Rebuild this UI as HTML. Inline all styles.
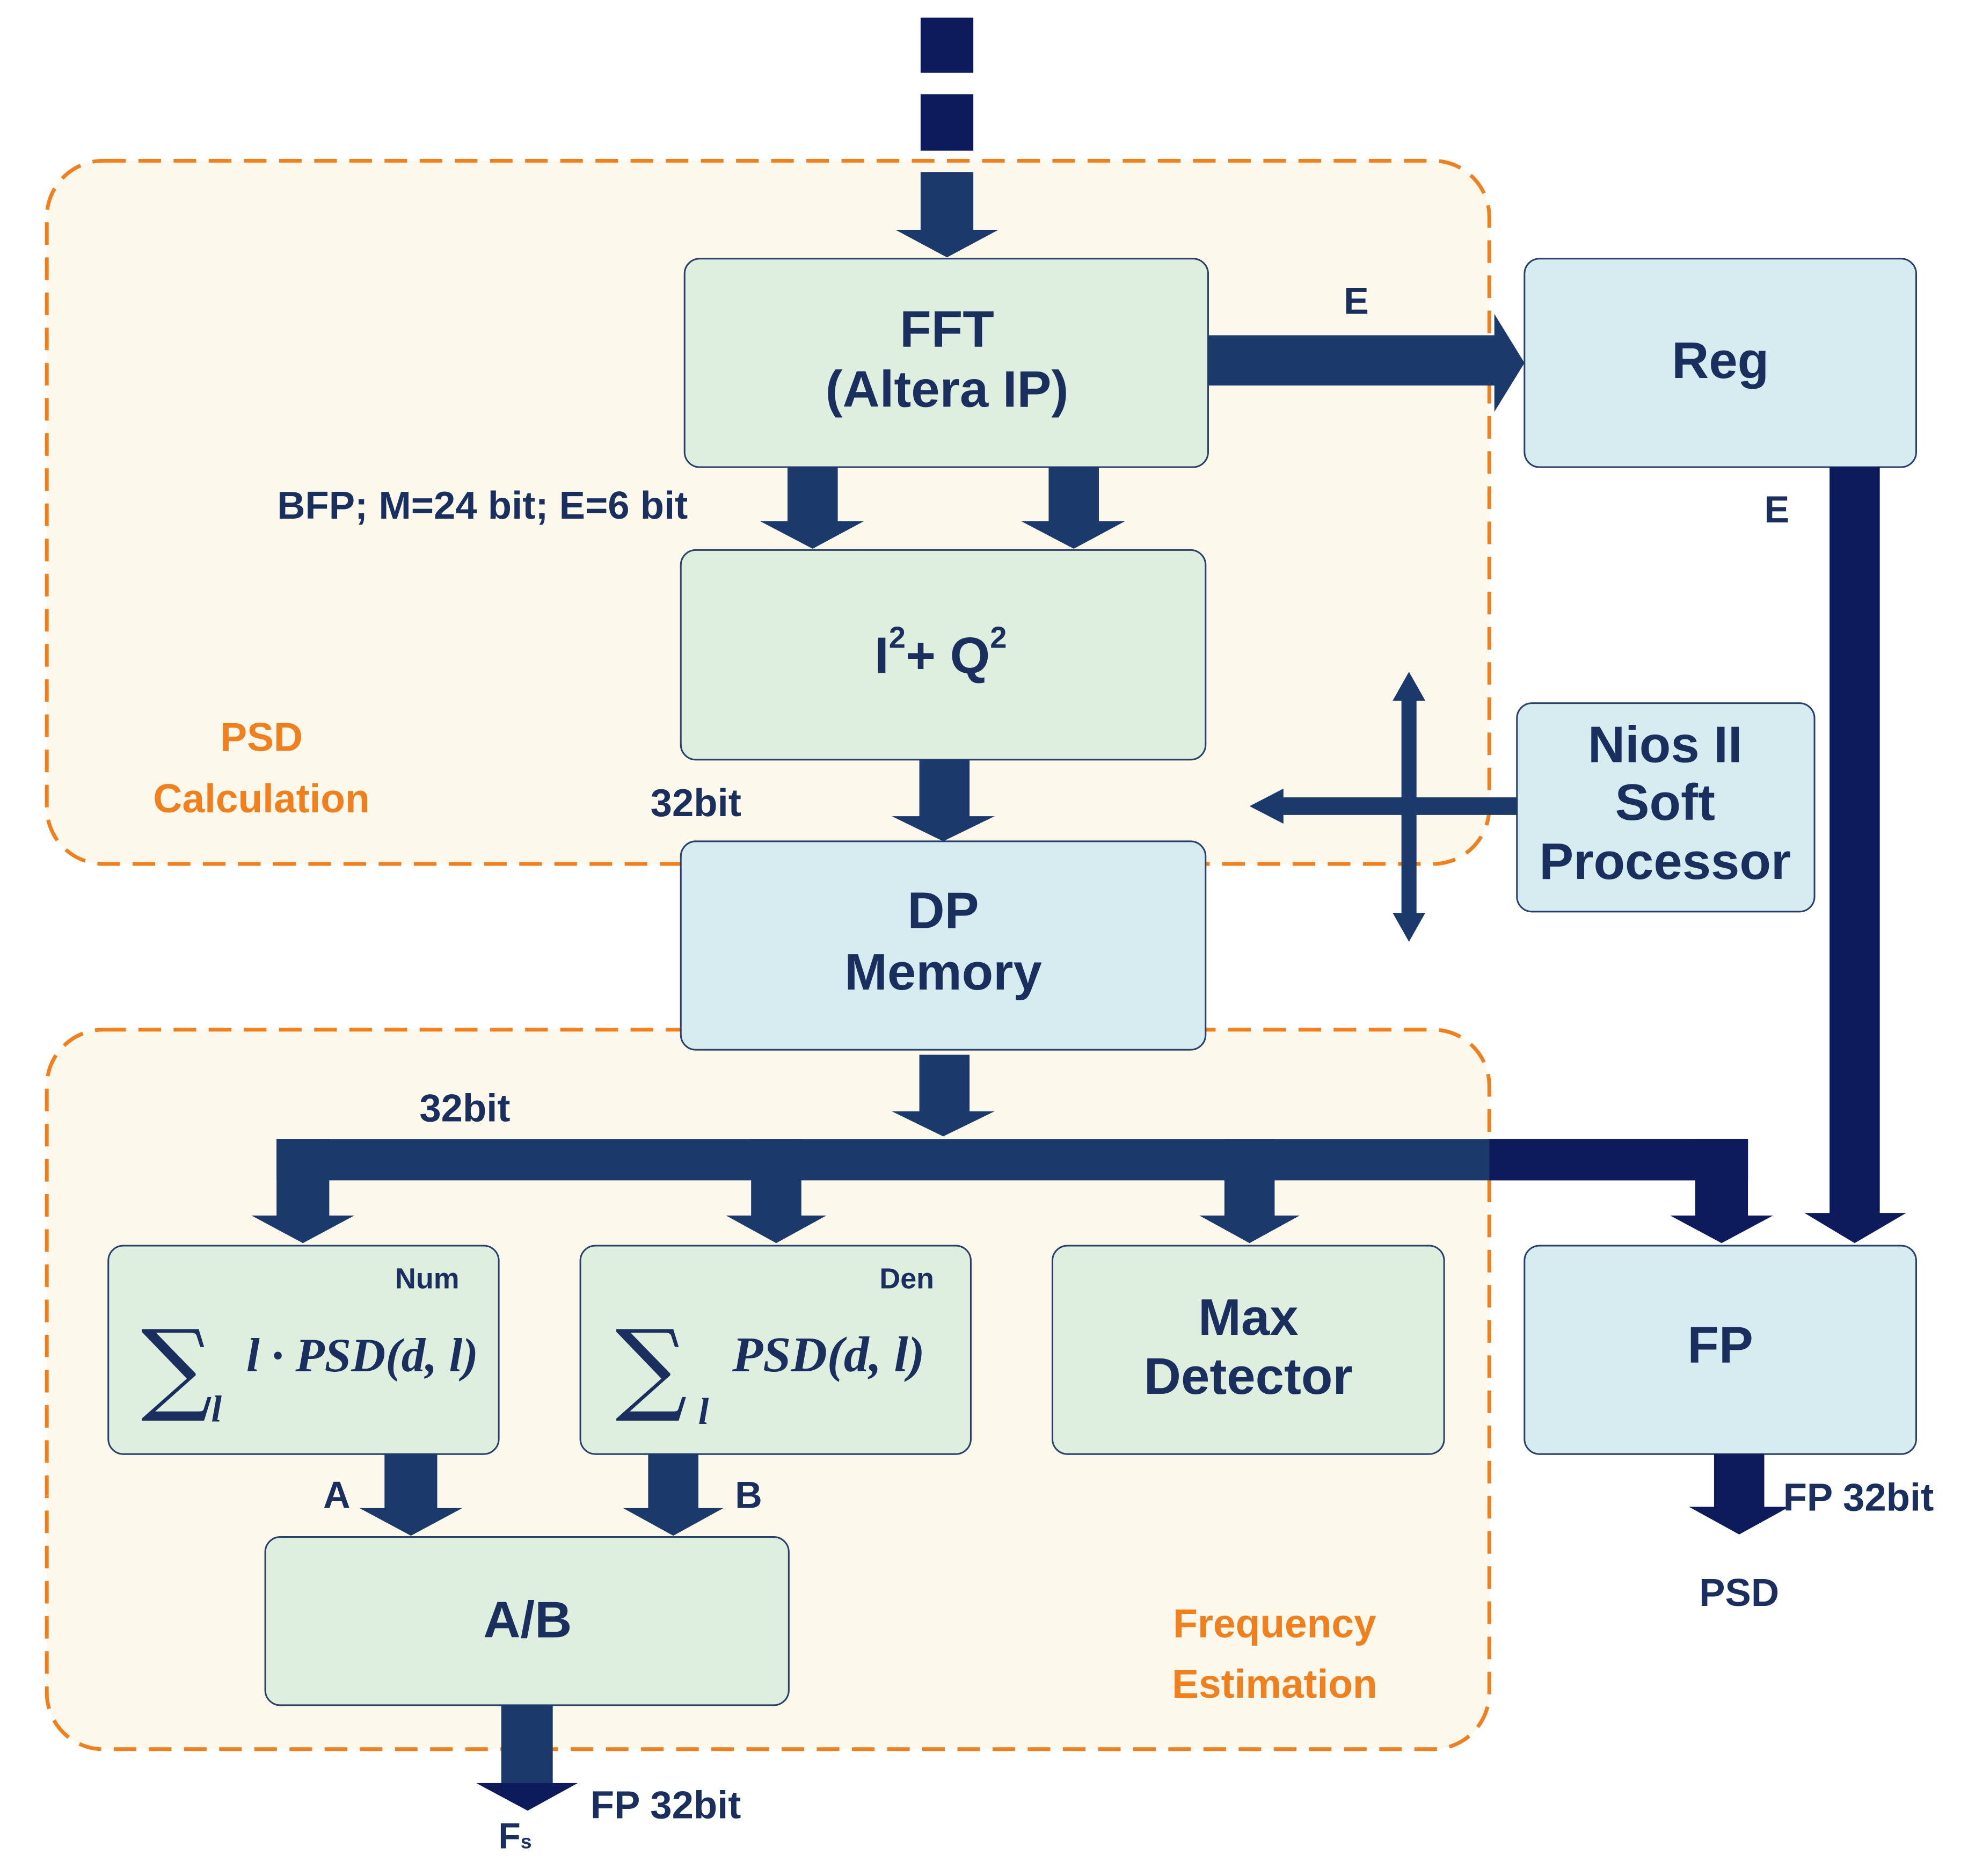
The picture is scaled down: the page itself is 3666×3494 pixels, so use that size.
<!DOCTYPE html>
<html><head><meta charset="utf-8"><style>
html,body{margin:0;padding:0;background:#fff;}
svg{display:block;}
text{font-family:"Liberation Sans",sans-serif;font-weight:bold;}
.t{fill:#1b2f5e;}
.o{fill:#f07f1e;}
</style></head><body>
<svg width="3666" height="3494" viewBox="0 0 1567 1494" xmlns="http://www.w3.org/2000/svg">
<rect width="1567" height="1494" fill="#fff"/>
<rect x="37" y="128" width="1149" height="560" rx="45" fill="#fdf8ec" stroke="#f07f1e" stroke-width="3" stroke-dasharray="18 10"/>
<rect x="37" y="820" width="1149" height="573" rx="45" fill="#fdf8ec" stroke="#f07f1e" stroke-width="3" stroke-dasharray="18 10"/>

<g fill="#0d1a5c">
<rect x="733" y="14" width="42" height="44"/>
<rect x="733" y="75" width="42" height="45"/>
</g>
<g fill="#1b3a6b">
<rect x="733" y="137" width="42" height="48"/>
<polygon points="713,183 795,183 754,205"/>
</g>

<g stroke="#2a3f6a" stroke-width="1.3">
<rect x="545" y="206" width="417" height="166" rx="12" fill="#deeedf"/>
<rect x="1214" y="206" width="312" height="166" rx="12" fill="#d6ecf0"/>
<rect x="542" y="438" width="418" height="167" rx="12" fill="#deeedf"/>
<rect x="542" y="670" width="418" height="166" rx="12" fill="#d6ecf0"/>
<rect x="1208" y="560" width="237" height="166" rx="12" fill="#d6ecf0"/>
<rect x="86" y="992" width="311" height="166" rx="12" fill="#deeedf"/>
<rect x="462" y="992" width="311" height="166" rx="12" fill="#deeedf"/>
<rect x="838" y="992" width="312" height="166" rx="12" fill="#deeedf"/>
<rect x="1214" y="992" width="312" height="166" rx="12" fill="#d6ecf0"/>
<rect x="211" y="1224" width="417" height="134" rx="12" fill="#deeedf"/>
</g>

<g fill="#1b3a6b">
<rect x="962" y="267" width="230" height="40"/>
<polygon points="1190,250 1214,289 1190,328"/>
<rect x="627" y="372" width="40" height="45"/><polygon points="605,415 688,415 647,437"/>
<rect x="835" y="372" width="40" height="45"/><polygon points="813,415 896,415 855,437"/>
<rect x="732" y="605" width="40" height="47"/><polygon points="710,650 792,650 751,670"/>
<rect x="732" y="840" width="40" height="47"/><polygon points="710,885 792,885 751,905"/>
<rect x="1020" y="635" width="188" height="14"/><polygon points="995,642 1022,628 1022,656"/>
<rect x="1116" y="555" width="12" height="175"/>
<polygon points="1122,535 1109,558 1135,558"/>
<polygon points="1122,750 1109,727 1135,727"/>
<rect x="220" y="907" width="1172" height="33"/>
<rect x="220" y="907" width="42" height="63"/><polygon points="200,968 282,968 241,990"/>
<rect x="598" y="907" width="40" height="63"/><polygon points="578,968 658,968 618,990"/>
<rect x="975" y="907" width="40" height="63"/><polygon points="955,968 1035,968 995,990"/>
<rect x="306" y="1158" width="42" height="45"/><polygon points="286,1201 368,1201 327,1223"/>
<rect x="516" y="1158" width="40" height="45"/><polygon points="496,1201 576,1201 536,1223"/>
<rect x="399" y="1358" width="41" height="64"/>
</g>
<g fill="#0d1a5c">
<rect x="1186" y="907" width="206" height="33"/>
<rect x="1350" y="907" width="42" height="63"/><polygon points="1330,968 1412,968 1371,990"/>
<rect x="1457" y="372" width="40" height="596"/><polygon points="1437,966 1518,966 1477,990"/>
<rect x="1365" y="1158" width="40" height="44"/><polygon points="1345,1200 1425,1200 1385,1222"/>
<polygon points="379,1420 460,1420 420,1442"/>
</g>

<g class="t" text-anchor="middle">
<text x="754" y="276" font-size="41">FFT</text>
<text x="754" y="324" font-size="41">(Altera IP)</text>
<text x="1370" y="301" font-size="41">Reg</text>
<text x="1080" y="250" font-size="30">E</text>
<text x="1415" y="416" font-size="30">E</text>
<text x="384" y="413" font-size="31">BFP; M=24 bit; E=6 bit</text>
<text x="749" y="536" font-size="41">I<tspan font-size="24" dy="-20">2</tspan><tspan dy="20">+ Q</tspan><tspan font-size="24" dy="-20">2</tspan></text>
<text x="554" y="650" font-size="31">32bit</text>
<text x="751" y="739" font-size="41">DP</text>
<text x="751" y="788" font-size="41">Memory</text>
<text x="1326" y="607" font-size="41">Nios II</text>
<text x="1326" y="653" font-size="41">Soft</text>
<text x="1326" y="700" font-size="41">Processor</text>
<text x="370" y="893" font-size="31">32bit</text>
<text x="340" y="1026" font-size="23">Num</text>
<text x="722" y="1026" font-size="23">Den</text>
<text x="994" y="1063" font-size="41">Max</text>
<text x="994" y="1110" font-size="41">Detector</text>
<text x="1370" y="1085" font-size="41">FP</text>
<text x="268" y="1201" font-size="30">A</text>
<text x="596" y="1201" font-size="30">B</text>
<text x="420" y="1304" font-size="41">A/B</text>
<text x="530" y="1448" font-size="31">FP 32bit</text>
<text x="1480" y="1203" font-size="31">FP 32bit</text>
<text x="1385" y="1279" font-size="31">PSD</text>
<text x="410" y="1472" font-size="29">F<tspan font-size="16">s</tspan></text>
</g>
<g class="o" text-anchor="middle">
<text x="208" y="598" font-size="32">PSD</text>
<text x="208" y="647" font-size="32">Calculation</text>
<text x="1015" y="1304" font-size="32">Frequency</text>
<text x="1015" y="1352" font-size="32">Estimation</text>
</g>
<g class="t">
<text x="112" y="1116" font-size="80" style="font-family:'DejaVu Serif',serif;font-weight:normal">∑</text>
<text x="168" y="1132" font-size="30" font-style="italic" style="font-family:'Liberation Serif',serif">l</text>
<text x="196" y="1092" font-size="38" font-style="italic" style="font-family:'Liberation Serif',serif">l · PSD(d, l)</text>
<text x="490" y="1116" font-size="80" style="font-family:'DejaVu Serif',serif;font-weight:normal">∑</text>
<text x="556" y="1134" font-size="30" font-style="italic" style="font-family:'Liberation Serif',serif">l</text>
<text x="583" y="1092" font-size="40" font-style="italic" style="font-family:'Liberation Serif',serif">PSD(d, l)</text>
</g>
</svg>
</body></html>
